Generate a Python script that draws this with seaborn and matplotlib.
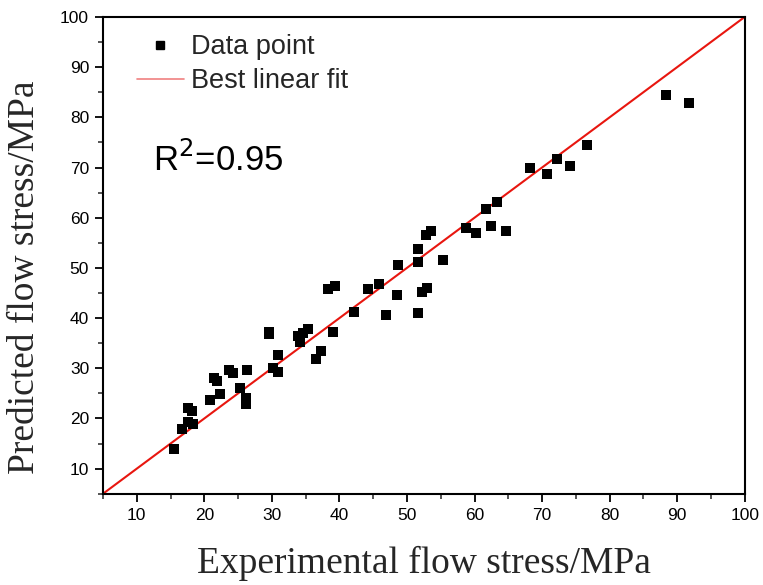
import matplotlib
matplotlib.use("Agg")
import matplotlib.pyplot as plt
import seaborn as sns
import pandas as pd
import numpy as np
from matplotlib.lines import Line2D
from matplotlib.ticker import MultipleLocator

experimental = [15.5, 16.7, 17.6, 18.3, 17.6, 18.2, 20.8, 22.3, 21.4, 21.9,
                23.6, 24.2, 25.3, 26.3, 26.2, 26.2, 29.6, 29.6, 30.1, 30.9,
                30.9, 33.8, 34.1, 34.6, 35.3, 36.5, 37.2, 38.3, 39.3, 39.0,
                42.1, 44.2, 45.8, 46.9, 48.6, 48.5, 51.6, 51.6, 51.6, 52.2,
                52.9, 52.8, 53.5, 55.3, 58.8, 60.2, 61.7, 62.4, 63.3, 64.6,
                68.2, 70.7, 72.2, 74.2, 76.7, 88.3, 91.8]
predicted = [14.0, 17.9, 19.3, 18.9, 22.1, 21.5, 23.6, 24.9, 28.1, 27.4,
             29.6, 29.1, 26.1, 29.7, 24.1, 22.9, 36.8, 37.3, 30.0, 29.3,
             32.7, 36.4, 35.3, 37.1, 37.9, 31.8, 33.5, 45.7, 46.4, 37.3,
             41.3, 45.8, 46.8, 40.6, 50.6, 44.6, 53.8, 51.2, 41.1, 45.2,
             46.0, 56.5, 57.3, 51.6, 58.0, 57.0, 61.8, 58.4, 63.2, 57.4,
             69.9, 68.7, 71.7, 70.3, 74.5, 84.5, 82.9]
fit_x = [5, 100]
fit_y = [5, 100]

sns.set_theme(style="white")
plt.rcParams['font.family'] = ['Liberation Sans', 'DejaVu Sans']

fig = plt.figure(figsize=(7.63, 5.85), dpi=100)
ax = fig.add_axes([0.135, 0.156, 0.841, 0.815])

df = pd.DataFrame({"x": experimental, "y": predicted})
fit = pd.DataFrame({"x": fit_x, "y": fit_y})

sns.lineplot(data=fit, x="x", y="y", ax=ax, color="#e8160f", linewidth=1.5, zorder=1)
sns.scatterplot(data=df, x="x", y="y", ax=ax, marker="s", s=60, color="black",
                edgecolor="black", linewidth=0, zorder=3)

ax.set_xlim(5, 100)
ax.set_ylim(5, 100)
ax.xaxis.set_minor_locator(MultipleLocator(5))
ax.yaxis.set_minor_locator(MultipleLocator(5))
ax.set_xticks([10, 20, 30, 40, 50, 60, 70, 80, 90, 100])
ax.set_yticks([10, 20, 30, 40, 50, 60, 70, 80, 90, 100])

for sp in ax.spines.values():
    sp.set_color("black")
    sp.set_linewidth(1.5)

ax.tick_params(axis="both", which="major", direction="out", length=6, width=1.3,
               labelsize=12.5, colors="black", bottom=True, left=True, top=False, right=False, pad=4)
ax.tick_params(axis="both", which="minor", direction="out", length=3.5, width=1.1,
               bottom=True, left=True, top=False, right=False)
ax.grid(False)

ax.set_xlabel("Experimental flow stress/MPa", family=["Liberation Serif"], fontsize=27, labelpad=17)
ax.set_ylabel("Predicted flow stress/MPa", family=["Liberation Serif"], fontsize=27)
ax.yaxis.set_label_coords(-0.095, 0.455)

handles = [Line2D([], [], marker="s", linestyle="none", color="black", markersize=6),
           Line2D([], [], color="#f08080", linewidth=1.2)]
ax.legend(handles, ["Data point", "Best linear fit"], loc="upper left",
          bbox_to_anchor=(0.027, 0.998), frameon=False, fontsize=19.5,
          handlelength=1.75, handletextpad=0.25, labelspacing=0.3, borderaxespad=0.2)

ax.text(0.078, 0.70, r"R$^2$=0.95", transform=ax.transAxes, fontsize=25,
        ha="left", va="center", color="black")

fig.savefig("out.png", dpi=100)
